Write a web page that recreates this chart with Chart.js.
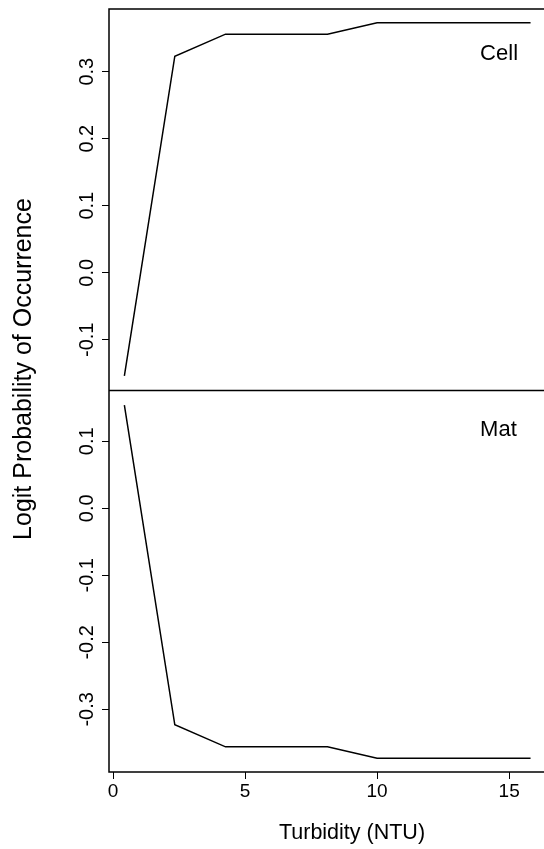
<!DOCTYPE html>
<html>
<head>
<meta charset="utf-8">
<script src="https://cdn.jsdelivr.net/npm/chart.js@4"></script>
<style>
  html, body { margin: 0; padding: 0; background: #fff; overflow: hidden; }
  #wrap { width: 544px; height: 849px; overflow: hidden; position: relative; }
  #myChart { position: absolute; left: 0; top: 0; }
</style>
</head>
<body>
<div id="wrap"><canvas id="myChart" width="595" height="849"></canvas></div>
<script>
// turbidity bins and fitted logit values
const turbidity = [0.43, 2.34, 4.26, 8.12, 10.0, 15.81];
const cellLogit = [-0.154, 0.323, 0.356, 0.356, 0.373, 0.373];
const matLogit = [0.154, -0.323, -0.356, -0.356, -0.373, -0.373];

const xTicks = [0, 5, 10, 15];
const cellTicks = [-0.1, 0.0, 0.1, 0.2, 0.3];
const matTicks = [-0.3, -0.2, -0.1, 0.0, 0.1];

const panelNames = ['Cell', 'Mat'];
const xTitle = 'Turbidity (NTU)';
const yTitle = 'Logit Probability of Occurrence';

const fontFamily = '"Liberation Sans", Arial, sans-serif';
const ink = '#000';

function toPoints(xs, ys) {
    var pts = [];
    for (var i = 0; i < xs.length; i++) {
        pts.push({x: xs[i], y: ys[i]});
    }
    return pts;
}

function yScale(ticks) {
    return {
        type: 'linear',
        position: 'left',
        stack: 'panels',
        stackWeight: 1,
        afterBuildTicks: (scale) => { scale.ticks = ticks.map(v => ({value: v})); },
        afterFit: (scale) => { scale.width = 109; },
        grid: { drawOnChartArea: false, drawTicks: true, tickLength: 7, color: ink, lineWidth: 1 },
        border: { display: false },
        ticks: {
            autoSkip: false,
            minRotation: 90,
            maxRotation: 90,
            crossAlign: 'center',
            padding: -3,
            color: ink,
            font: { family: fontFamily, size: 20 },
            callback: (v) => Number(v).toFixed(1)
        }
    };
}

const panelBox = {
    id: 'panelBox',
    afterDraw(chart) {
        const ctx = chart.ctx;
        const a = chart.chartArea;
        const top = chart.scales.yTop;
        const bot = chart.scales.yBot;
        const x = chart.scales.x;

        ctx.save();
        ctx.strokeStyle = ink;
        ctx.lineWidth = 1.5;
        ctx.strokeRect(a.left, a.top, a.right - a.left, a.bottom - a.top);
        ctx.beginPath();
        ctx.moveTo(a.left, top.bottom);
        ctx.lineTo(a.right, top.bottom);
        ctx.stroke();

        // panel names
        ctx.fillStyle = ink;
        ctx.font = '22px ' + fontFamily;
        ctx.textAlign = 'left';
        ctx.textBaseline = 'middle';
        ctx.fillText(panelNames[0], x.getPixelForValue(13.9), top.getPixelForValue(0.327));
        ctx.fillText(panelNames[1], x.getPixelForValue(13.9), bot.getPixelForValue(0.117));

        // shared y title
        ctx.font = '25px ' + fontFamily;
        ctx.translate(31, 369);
        ctx.rotate(-Math.PI / 2);
        ctx.textAlign = 'center';
        ctx.textBaseline = 'alphabetic';
        ctx.fillText(yTitle, 0, 0);
        ctx.restore();
    }
};

createChart();
function createChart() {

    var ctx = document.getElementById('myChart').getContext('2d');

    var myChart = new Chart(ctx, {
        type: 'line',
        data: {
            datasets: [{
                label: panelNames[1],
                data: toPoints(turbidity, matLogit),
                yAxisID: 'yBot',
                borderColor: ink,
                borderWidth: 1.5,
                pointRadius: 0,
                tension: 0
            }, {
                label: panelNames[0],
                data: toPoints(turbidity, cellLogit),
                yAxisID: 'yTop',
                borderColor: ink,
                borderWidth: 1.5,
                pointRadius: 0,
                tension: 0
            }]
        },
        options: {
            responsive: false,
            animation: false,
            devicePixelRatio: 1,
            layout: { padding: { top: 6, left: 0, right: 0, bottom: 0 } },
            plugins: { legend: { display: false }, tooltip: { enabled: false } },
            scales: {
                x: {
                    type: 'linear',
                    position: 'bottom',
                    min: -0.152,
                    max: 18.25,
                    afterBuildTicks: (scale) => { scale.ticks = xTicks.map(v => ({value: v})); },
                    afterFit: (scale) => { scale.height = 77; },
                    grid: { drawOnChartArea: false, drawTicks: true, tickLength: 7, color: ink, lineWidth: 1 },
                    border: { display: false },
                    ticks: {
                        autoSkip: false,
                        maxRotation: 0,
                        padding: 1,
                        color: ink,
                        font: { family: fontFamily, size: 19 }
                    },
                    title: {
                        display: true,
                        text: xTitle,
                        color: ink,
                        font: { family: fontFamily, size: 21.5 },
                        padding: { top: 0, bottom: 3 }
                    }
                },
                yBot: Object.assign(yScale(matTicks), { min: -0.3935, max: 0.1757 }),
                yTop: Object.assign(yScale(cellTicks), { min: -0.1757, max: 0.3935 })
            }
        },
        plugins: [panelBox]
    });
}
</script>
</body>
</html>
